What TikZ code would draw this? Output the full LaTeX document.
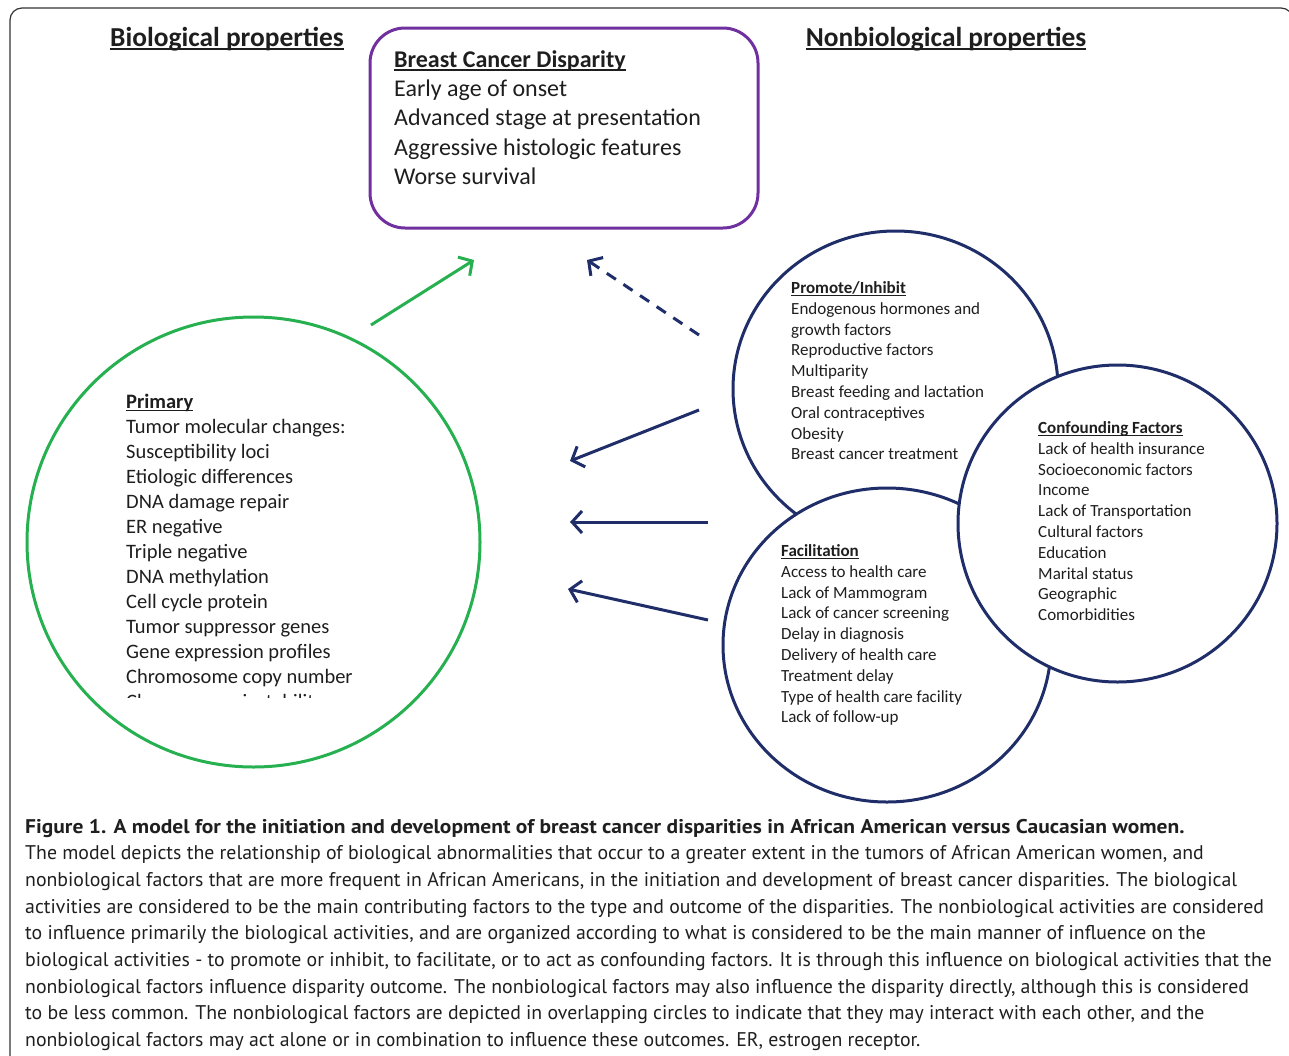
\documentclass[tikz,border=0pt]{standalone}
\usepackage{fontspec}
\usepackage{graphicx}
\setmainfont{Carlito}
\newfontfamily\capfont{PT Sans}
\usetikzlibrary{arrows.meta,shapes.geometric}
\definecolor{bcpurple}{RGB}{112,48,160}
\definecolor{bcgreen}{RGB}{38,176,80}
\definecolor{bcnavy}{RGB}{31,45,105}
\definecolor{bctext}{RGB}{30,30,30}
\newcommand\myul[3]{\setbox0\hbox{#3}\rlap{\rule[-#2]{\wd0}{#1}}\box0}
\newcommand\txtblock[1]{\begin{tabular}[t]{@{}l@{}}#1\end{tabular}}
\begin{document}
\begin{tikzpicture}[x=1pt,y=-1pt,
  navycirc/.style={ellipse, draw=bcnavy, line width=3pt, fill=white, inner sep=0pt},
  navyarrow/.style={draw=bcnavy, line width=3pt, -{Straight Barb[length=10pt,width=22pt]}},
  txt/.style={anchor=base west, inner sep=0pt, text=bctext},
  circtxt/.style={txt, font=\fontsize{17}{20.8}\selectfont},
  heading/.style={txt, anchor=base, font=\fontsize{27.4}{30}\selectfont\bfseries}]
\useasboundingbox (0,0) rectangle (1289,1055);
% frame
\draw[line width=1.2pt, draw=black!80, rounded corners=12pt] (10,1070) -- (10,8) -- (1293,8) -- (1293,60);
% headings
\node[heading] (bioh) at (227,46) {\myul{2pt}{4pt}{Biological properties}};
\node[heading] (nonbioh) at (946,46) {\myul{2pt}{4pt}{Nonbiological properties}};
% disparity box
\node[draw=bcpurple, line width=3pt, rounded corners=35pt, minimum width=388pt, minimum height=200pt, inner sep=0pt] (disp) at (564,128) {};
\node[txt, font=\fontsize{24}{29.2}\selectfont] (disptxt) at (394,67.5) {\txtblock{\myul{1.6pt}{3.5pt}{\bfseries Breast Cancer Disparity}\\ Early age of onset\\ Advanced stage at presentation\\ Aggressive histologic features\\ Worse survival}};
% primary circle
\node[ellipse, draw=bcgreen, line width=3pt, minimum width=453pt, minimum height=450pt, inner sep=0pt] (prim) at (253.5,542) {};
\begin{scope}
\clip (100,380) rectangle (420,697);
\node[txt, font=\fontsize{20.5}{25}\selectfont] (primtxt) at (126,408) {\txtblock{\myul{1.4pt}{3pt}{\bfseries Primary}\\ Tumor molecular changes:\\ Susceptibility loci\\ Etiologic differences\\ DNA damage repair\\ ER negative\\ Triple negative\\ DNA methylation\\ Cell cycle protein\\ Tumor suppressor genes\\ Gene expression profiles\\ Chromosome copy number\\ Chromosome instability}};
\end{scope}
% nonbiological circles
\node[navycirc, minimum width=325pt, minimum height=316pt] (prom) at (895.5,389) {};
\node[navycirc, minimum width=328pt, minimum height=314pt] (facil) at (887,645) {};
\node[navycirc, minimum width=319pt, minimum height=317pt] (conf) at (1117.5,523.5) {};
\node[circtxt] (promtxt) at (791,293.5) {\txtblock{\myul{1.2pt}{2.6pt}{\bfseries Promote/Inhibit}\\ Endogenous hormones and\\ growth factors\\ Reproductive factors\\ Multiparity\\ Breast feeding and lactation\\ Oral contraceptives\\ Obesity\\ Breast cancer treatment}};
\node[circtxt] (conftxt) at (1038,433.5) {\txtblock{\myul{1.2pt}{2.6pt}{\bfseries Confounding Factors}\\ Lack of health insurance\\ Socioeconomic factors\\ Income\\ Lack of Transportation\\ Cultural factors\\ Education\\ Marital status\\ Geographic\\ Comorbidities}};
\node[circtxt] (faciltxt) at (781,556.5) {\txtblock{\myul{1.2pt}{2.6pt}{\bfseries Facilitation}\\ Access to health care\\ Lack of Mammogram\\ Lack of cancer screening\\ Delay in diagnosis\\ Delivery of health care\\ Treatment delay\\ Type of health care facility\\ Lack of follow-up}};
% arrow end points
\coordinate (g1) at (371,325); \coordinate (g2) at (474,260);
\coordinate (d1) at (699,335); \coordinate (d2) at (587,260);
\coordinate (a1) at (699,410); \coordinate (a2) at (570,461);
\coordinate (b1) at (708,522); \coordinate (b2) at (570,522);
\coordinate (c1) at (708,620); \coordinate (c2) at (568,589);
\draw[draw=bcgreen, line width=3pt, -{Straight Barb[length=10pt,width=22pt]}] (g1) -- (g2);
\draw[navyarrow, dash pattern=on 11pt off 9pt] (d1) -- (d2);
\draw[navyarrow] (a1) -- (a2);
\draw[navyarrow] (b1) -- (b2);
\draw[navyarrow] (c1) -- (c2);
% caption
\node[txt, font=\capfont\fontsize{19.8}{26.7}\selectfont, text=black!88] (caption) at (25,833) {\txtblock{\scalebox{1.085}[1]{\bfseries Figure 1. A model for the initiation and development of breast cancer disparities in African American versus Caucasian women.}\\
The model depicts the relationship of biological abnormalities that occur to a greater extent in the tumors of African American women, and\\
nonbiological factors that are more frequent in African Americans, in the initiation and development of breast cancer disparities. The biological\\
activities are considered to be the main contributing factors to the type and outcome of the disparities. The nonbiological activities are considered\\
to influence primarily the biological activities, and are organized according to what is considered to be the main manner of influence on the\\
biological activities - to promote or inhibit, to facilitate, or to act as confounding factors. It is through this influence on biological activities that the\\
nonbiological factors influence disparity outcome. The nonbiological factors may also influence the disparity directly, although this is considered\\
to be less common. The nonbiological factors are depicted in overlapping circles to indicate that they may interact with each other, and the\\
nonbiological factors may act alone or in combination to influence these outcomes. ER, estrogen receptor.}};
\end{tikzpicture}
\end{document}
